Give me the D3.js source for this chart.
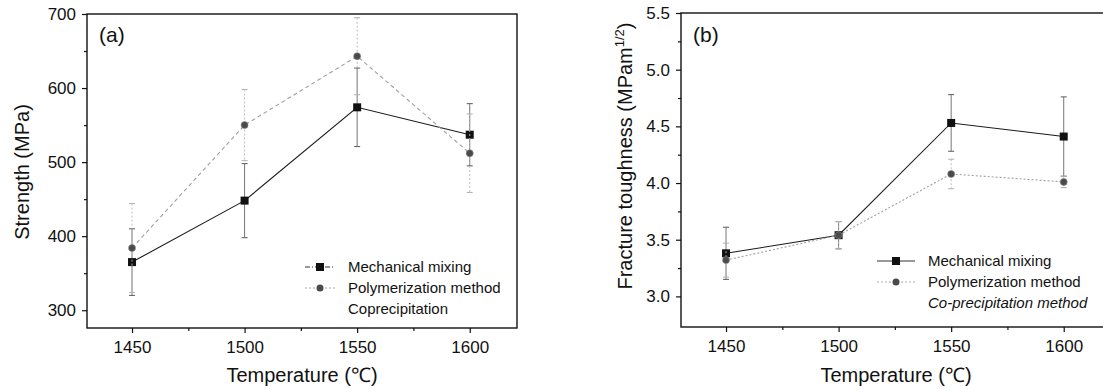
<!DOCTYPE html>
<html>
<head>
<meta charset="utf-8">
<script src="https://cdn.jsdelivr.net/npm/d3@7"></script>
<style>
  body { margin: 0; background: #fff; }
  svg { display: block; font-family: "Liberation Sans", Arial, sans-serif; }
</style>
</head>
<body>
<svg id="chart" width="1103" height="389"></svg>
<script>
// data
const temps = [1450, 1500, 1550, 1600];

const strengthMech    = [365, 448, 574, 537];
const strengthMechErr = [45, 50, 53, 42];
const strengthPoly    = [384, 550, 643, 512];
const strengthPolyErr = [60, 48, 52, 53];

const toughMech    = [3.38, 3.54, 4.53, 4.41];
const toughMechErr = [0.23, 0.12, 0.25, 0.35];
const toughPoly    = [3.32, 3.54, 4.08, 4.01];
const toughPolyErr = [0.15, 0.12, 0.13, 0.05];

const strengthTicks = [300, 400, 500, 600, 700];
const toughTicks = [3.0, 3.5, 4.0, 4.5, 5.0, 5.5];
const tempTicks = [1450, 1500, 1550, 1600];

const legendA = ["Mechanical mixing", "Polymerization method", "Coprecipitation"];
const legendB = ["Mechanical mixing", "Polymerization method", "Co-precipitation method"];

const svg = d3.select("#chart");

function drawPanel(o) {
    const g = svg.append("g");

    const x = d3.scaleLinear().domain([1430, 1621]).range([o.left, o.left + 430]);
    const y = d3.scaleLinear().domain(o.yDomain).range([o.bottom, o.top]);

    // right panel runs off the page
    const xr = Math.min(o.left + 430, 1104);

    // frame
    g.append("rect")
        .attr("x", o.left).attr("y", o.top)
        .attr("width", xr - o.left)
        .attr("height", o.bottom - o.top)
        .attr("fill", "none").attr("stroke", "#111").attr("stroke-width", 1.4);

    // axes: major + minor
    g.append("g").attr("transform", `translate(${o.left},0)`)
        .call(d3.axisLeft(y).tickValues(o.yTicks).tickSize(5).tickPadding(6).tickFormat(o.yFormat));
    g.append("g").attr("transform", `translate(${o.left},0)`)
        .call(d3.axisLeft(y).tickValues(o.yMinor).tickSize(3).tickFormat(""));

    g.append("g").attr("transform", `translate(0,${o.bottom})`)
        .call(d3.axisBottom(x).tickValues(tempTicks).tickSize(5).tickPadding(8).tickFormat(d3.format("d")));
    g.append("g").attr("transform", `translate(0,${o.bottom})`)
        .call(d3.axisBottom(x).tickValues([1475, 1525, 1575]).tickSize(3).tickFormat(""));

    g.selectAll(".domain").remove();
    g.selectAll(".tick line").attr("stroke", "#111").attr("stroke-width", 1.2);
    g.selectAll(".tick text").attr("fill", "#111").attr("font-size", "17px");

    // axis titles
    g.append("text")
        .attr("transform", `translate(${o.yTitleX},${o.yTitleY}) rotate(-90)`)
        .attr("text-anchor", "middle")
        .attr("font-size", "20px").attr("fill", "#111")
        .call(o.yTitle);

    g.append("text")
        .attr("x", o.left + 215).attr("y", 382)
        .attr("text-anchor", "middle")
        .attr("font-size", "20px").attr("fill", "#111")
        .text("Temperature (\u2103)");

    g.append("text")
        .attr("x", o.left + 12).attr("y", 42)
        .attr("font-size", "21px").attr("fill", "#111")
        .text(o.tag);

    const series = [
        { vals: o.mech, errs: o.mechErr, line: "#1a1a1a", dash: null, errColor: "#666", errDash: null, shape: "square" },
        { vals: o.poly, errs: o.polyErr, line: "#a0a0a0", dash: o.polyDash, errColor: "#b5b5b5", errDash: "2,2", shape: "circle" }
    ];

    series.forEach(s => {
        const pts = temps.map((t, i) => ({ t, v: s.vals[i], e: s.errs[i] }));

        // error bars
        const eb = g.append("g");
        eb.selectAll("line.v").data(pts).enter().append("line")
            .attr("x1", d => x(d.t)).attr("x2", d => x(d.t))
            .attr("y1", d => y(d.v + d.e)).attr("y2", d => y(d.v - d.e))
            .attr("stroke", s.errColor).attr("stroke-width", 0.9)
            .attr("stroke-dasharray", s.errDash);
        [1, -1].forEach(sign => {
            eb.selectAll(null).data(pts).enter().append("line")
                .attr("x1", d => x(d.t) - 3).attr("x2", d => x(d.t) + 3)
                .attr("y1", d => y(d.v + sign * d.e)).attr("y2", d => y(d.v + sign * d.e))
                .attr("stroke", s.errColor).attr("stroke-width", 1.1);
        });

        g.append("path")
            .datum(pts)
            .attr("d", d3.line().x(d => x(d.t)).y(d => y(d.v)))
            .attr("fill", "none")
            .attr("stroke", s.line).attr("stroke-width", 1.1)
            .attr("stroke-dasharray", s.dash);

        if (s.shape === "square") {
            g.selectAll(null).data(pts).enter().append("rect")
                .attr("x", d => x(d.t) - 4).attr("y", d => y(d.v) - 4)
                .attr("width", 8).attr("height", 8)
                .attr("fill", "#111");
        } else {
            g.selectAll(null).data(pts).enter().append("circle")
                .attr("cx", d => x(d.t)).attr("cy", d => y(d.v))
                .attr("r", 3.5)
                .attr("fill", "#4a4a4a").attr("stroke", "#888").attr("stroke-width", 0.6);
        }
    });

    // legend
    const lg = g.append("g");
    o.legend.forEach((label, i) => {
        lg.append("text")
            .attr("x", o.legX).attr("y", o.legY + i * 21)
            .attr("font-size", "15px").attr("fill", "#111")
            .attr("font-style", i === 2 && o.italicLast ? "italic" : null)
            .text(label);
    });
    const sy = o.legY - 5;
    lg.append("line")
        .attr("x1", o.legX - o.symW - 13).attr("x2", o.legX - 13)
        .attr("y1", sy).attr("y2", sy)
        .attr("stroke", "#333").attr("stroke-width", 1)
        .attr("stroke-dasharray", o.legMechDash);
    lg.append("rect")
        .attr("x", o.legX - 13 - o.symW / 2 - 4).attr("y", sy - 4)
        .attr("width", 8).attr("height", 8).attr("fill", "#111");
    lg.append("line")
        .attr("x1", o.legX - o.symW - 13).attr("x2", o.legX - 13)
        .attr("y1", sy + 21).attr("y2", sy + 21)
        .attr("stroke", "#aaa").attr("stroke-width", 1)
        .attr("stroke-dasharray", "2,2");
    lg.append("circle")
        .attr("cx", o.legX - 13 - o.symW / 2).attr("cy", sy + 21)
        .attr("r", 3.5).attr("fill", "#4a4a4a");
}

drawPanel({
    tag: "(a)",
    left: 87, top: 14, bottom: 328,
    yDomain: [276, 700],
    yTicks: strengthTicks,
    yMinor: [350, 450, 550, 650],
    yFormat: d3.format("d"),
    yTitleX: 29, yTitleY: 172,
    yTitle: t => t.text("Strength (MPa)"),
    mech: strengthMech, mechErr: strengthMechErr,
    poly: strengthPoly, polyErr: strengthPolyErr,
    polyDash: "4,3",
    legend: legendA, legX: 348, legY: 272, symW: 30,
    legMechDash: "5,2,1,2",
    italicLast: false
});

drawPanel({
    tag: "(b)",
    left: 681, top: 13, bottom: 327,
    yDomain: [2.73, 5.5],
    yTicks: toughTicks,
    yMinor: [3.25, 3.75, 4.25, 4.75, 5.25],
    yFormat: d3.format(".1f"),
    yTitleX: 632, yTitleY: 156,
    yTitle: t => {
        t.append("tspan").text("Fracture toughness (MPam");
        t.append("tspan").attr("dy", "-8").attr("font-size", "13px").text("1/2");
        t.append("tspan").attr("dy", "8").text(")");
    },
    mech: toughMech, mechErr: toughMechErr,
    poly: toughPoly, polyErr: toughPolyErr,
    polyDash: "2,2",
    legend: legendB, legX: 928, legY: 266, symW: 38,
    legMechDash: null,
    italicLast: true
});
</script>
</body>
</html>
